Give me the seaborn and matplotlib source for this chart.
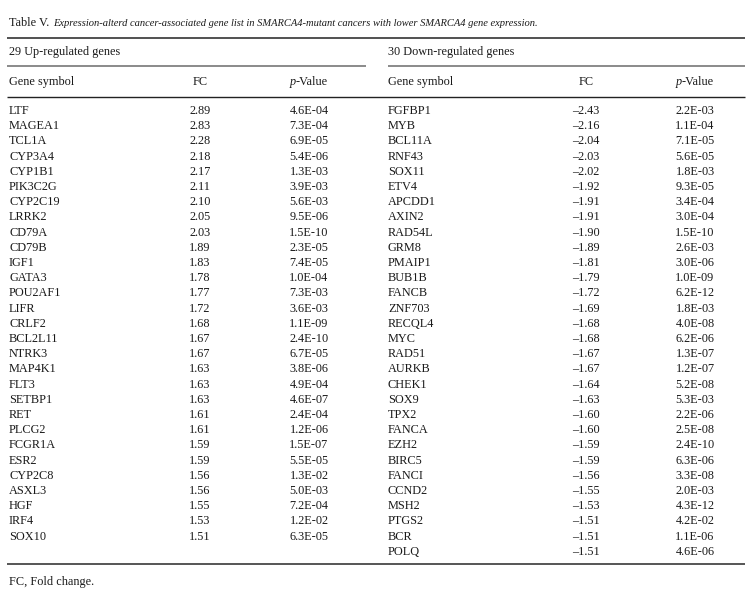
import matplotlib
matplotlib.use("Agg")
import matplotlib.pyplot as plt
import seaborn as sns

# ---------------- data ----------------
title_label = "Table V."
title_text = "Expression-alterd cancer-associated gene list in SMARCA4-mutant cancers with lower SMARCA4 gene expression."
up_title = "29 Up-regulated genes"
down_title = "30 Down-regulated genes"
col_headers = ["Gene symbol", "FC", "p", "-Value"]
footnote = "FC, Fold change."

up_genes = ["LTF", "MAGEA1", "TCL1A", "CYP3A4", "CYP1B1", "PIK3C2G", "CYP2C19", "LRRK2",
            "CD79A", "CD79B", "IGF1", "GATA3", "POU2AF1", "LIFR", "CRLF2", "BCL2L11",
            "NTRK3", "MAP4K1", "FLT3", "SETBP1", "RET", "PLCG2", "FCGR1A", "ESR2",
            "CYP2C8", "ASXL3", "HGF", "IRF4", "SOX10"]
up_fc = [2.89, 2.83, 2.28, 2.18, 2.17, 2.11, 2.10, 2.05, 2.03, 1.89, 1.83, 1.78, 1.77,
         1.72, 1.68, 1.67, 1.67, 1.63, 1.63, 1.63, 1.61, 1.61, 1.59, 1.59, 1.56, 1.56,
         1.55, 1.53, 1.51]
up_p = ["4.6E-04", "7.3E-04", "6.9E-05", "5.4E-06", "1.3E-03", "3.9E-03", "5.6E-03",
        "9.5E-06", "1.5E-10", "2.3E-05", "7.4E-05", "1.0E-04", "7.3E-03", "3.6E-03",
        "1.1E-09", "2.4E-10", "6.7E-05", "3.8E-06", "4.9E-04", "4.6E-07", "2.4E-04",
        "1.2E-06", "1.5E-07", "5.5E-05", "1.3E-02", "5.0E-03", "7.2E-04", "1.2E-02",
        "6.3E-05"]

down_genes = ["FGFBP1", "MYB", "BCL11A", "RNF43", "SOX11", "ETV4", "APCDD1", "AXIN2",
              "RAD54L", "GRM8", "PMAIP1", "BUB1B", "FANCB", "ZNF703", "RECQL4", "MYC",
              "RAD51", "AURKB", "CHEK1", "SOX9", "TPX2", "FANCA", "EZH2", "BIRC5",
              "FANCI", "CCND2", "MSH2", "PTGS2", "BCR", "POLQ"]
down_fc = [-2.43, -2.16, -2.04, -2.03, -2.02, -1.92, -1.91, -1.91, -1.90, -1.89, -1.81,
           -1.79, -1.72, -1.69, -1.68, -1.68, -1.67, -1.67, -1.64, -1.63, -1.60, -1.60,
           -1.59, -1.59, -1.56, -1.55, -1.53, -1.51, -1.51, -1.51]
down_p = ["2.2E-03", "1.1E-04", "7.1E-05", "5.6E-05", "1.8E-03", "9.3E-05", "3.4E-04",
          "3.0E-04", "1.5E-10", "2.6E-03", "3.0E-06", "1.0E-09", "6.2E-12", "1.8E-03",
          "4.0E-08", "6.2E-06", "1.3E-07", "1.2E-07", "5.2E-08", "5.3E-03", "2.2E-06",
          "2.5E-08", "2.4E-10", "6.3E-06", "3.3E-08", "2.0E-03", "4.3E-12", "4.2E-02",
          "1.1E-06", "4.6E-06"]

# ---------------- style ----------------
sns.set_theme(style="white")
plt.rcParams["font.family"] = ["Liberation Serif", "DejaVu Serif"]
FS = 8.8
FS_TITLE_IT = 7.55
INK = "#1a1a1a"

W, H = 755, 604
fig = plt.figure(figsize=(W / 100, H / 100), dpi=100)
ax = fig.add_axes([0, 0, 1, 1])
ax.set_xlim(0, W)
ax.set_ylim(H, 0)
ax.axis("off")
renderer = fig.canvas.get_renderer()
inv = ax.transData.inverted()


def text_width(t):
    bb = t.get_window_extent(renderer=renderer)
    return inv.transform((bb.x1, 0))[0] - inv.transform((bb.x0, 0))[0]


X0, X1 = 7, 745
# title
t1 = ax.text(9, 25.5, title_label + " ", fontsize=FS, color=INK, va="baseline", ha="left")
ax.text(9 + text_width(t1) + 1, 25.5, title_text, fontsize=FS_TITLE_IT, color=INK,
        va="baseline", ha="left", style="italic")

# rules
ax.hlines(37.7, X0, X1, color="#222222", lw=1.1)
ax.hlines(65.7, X0, 366, color="#8a8a8a", lw=1.4)
ax.hlines(65.7, 388, X1, color="#8a8a8a", lw=1.4)
ax.hlines(96.5, X0, X1, color="#222222", lw=1.0)
ax.hlines(564, X0, X1, color="#555555", lw=1.4)

# section titles
ax.text(9, 55, up_title, fontsize=FS, color=INK, va="baseline", ha="left")
ax.text(388, 55, down_title, fontsize=FS, color=INK, va="baseline", ha="left")

sections = [
    (9, 200, 309, up_genes, up_fc, up_p),
    (388, 586, 695, down_genes, down_fc, down_p),
]

ROW0, ROWH = 114.0, 15.2
for xg, xfc, xp, genes, fcs, ps in sections:
    ax.text(xg, 85, col_headers[0], fontsize=FS, color=INK, va="baseline", ha="left")
    ax.text(xfc, 85, col_headers[1], fontsize=FS, color=INK, va="baseline", ha="center")
    tp = ax.text(0, 85, col_headers[2], fontsize=FS, color=INK, va="baseline", ha="left",
                 style="italic")
    tv = ax.text(0, 85, col_headers[3], fontsize=FS, color=INK, va="baseline", ha="left")
    wp, wv = text_width(tp), text_width(tv)
    start = xp - (wp + wv) / 2
    tp.set_x(start)
    tv.set_x(start + wp)
    for i, (g, fc, p) in enumerate(zip(genes, fcs, ps)):
        y = ROW0 + i * ROWH
        ax.text(xg, y, g, fontsize=FS, color=INK, va="baseline", ha="left")
        fc_s = f"{fc:.2f}".replace("-", "\u2013")
        ax.text(xfc, y, fc_s, fontsize=FS, color=INK, va="baseline", ha="center")
        ax.text(xp, y, p, fontsize=FS, color=INK, va="baseline", ha="center")

ax.text(9, 584.5, footnote, fontsize=FS, color=INK, va="baseline", ha="left")

fig.savefig("out.png", dpi=100, facecolor="white")
